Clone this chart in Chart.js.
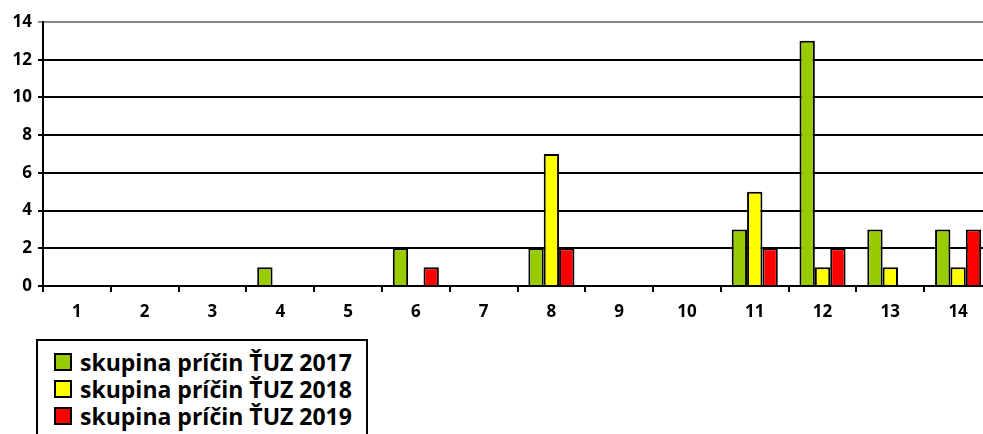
<!DOCTYPE html>
<html>
<head>
<meta charset="utf-8">
<script src="https://cdn.jsdelivr.net/npm/chart.js@4/dist/chart.umd.min.js"></script>
<style>
  html, body { margin: 0; padding: 0; background: #fff; overflow: hidden; }
  #wrap { position: relative; width: 983px; height: 434px; overflow: hidden; }
  #chart { position: absolute; left: 0; top: 0; }
  #legend {
    position: absolute; left: 36px; top: 339px; width: 332px; height: 110px;
    border: 2px solid #000; box-sizing: border-box; padding-top: 8px;
    font-family: 'Open Sans', sans-serif; font-weight: bold; font-size: 23px; color: #000;
  }
  #legend div { height: 27px; line-height: 27px; white-space: nowrap; }
  #legend span.sw {
    display: inline-block; width: 14px; height: 14px; border: 2px solid #000;
    margin-left: 16px; margin-right: 8px; vertical-align: 0px;
  }
</style>
</head>
<body>
<div id="wrap">
  <canvas id="chart" width="992" height="330"></canvas>
  <div id="legend"></div>
</div>
<script>
const categories = ['1', '2', '3', '4', '5', '6', '7', '8', '9', '10', '11', '12', '13', '14'];
const values2017 = [0, 0, 0, 1, 0, 2, 0, 2, 0, 0, 3, 13, 3, 3];
const values2018 = [0, 0, 0, 0, 0, 0, 0, 7, 0, 0, 5, 1, 1, 1];
const values2019 = [0, 0, 0, 0, 0, 1, 0, 2, 0, 0, 2, 2, 0, 3];
const seriesLabels = ['skupina príčin ŤUZ 2017', 'skupina príčin ŤUZ 2018', 'skupina príčin ŤUZ 2019'];
const yTicks = [0, 2, 4, 6, 8, 10, 12, 14];

const tickFont = { family: "'Open Sans', sans-serif", weight: 'bold', size: 17 };

const chart = new Chart(document.getElementById('chart'), {
  type: 'bar',
  data: {
    labels: categories,
    datasets: [
      { label: seriesLabels[0], data: values2017, backgroundColor: '#99cc00' },
      { label: seriesLabels[1], data: values2018, backgroundColor: '#ffff00' },
      { label: seriesLabels[2], data: values2019, backgroundColor: '#ff0000' }
    ].map(d => ({ ...d, borderColor: '#000', borderWidth: 2, borderSkipped: 'bottom' }))
  },
  options: {
    responsive: false,
    animation: false,
    layout: { padding: { top: 22, right: 0, left: 0, bottom: 0 } },
    datasets: { bar: { categoryPercentage: 0.68, barPercentage: 1 } },
    plugins: {
      legend: { display: false },
      tooltip: { enabled: false }
    },
    scales: {
      x: {
        afterFit: s => { s.height = 44; },
        border: { color: '#000', width: 2 },
        grid: { display: true, drawOnChartArea: false, drawTicks: true, tickLength: 6, color: '#000', lineWidth: 2 },
        ticks: { color: '#000', font: tickFont, padding: 10, maxRotation: 0 }
      },
      y: {
        min: 0,
        max: 14,
        afterFit: s => { s.width = 43; },
        afterBuildTicks: s => { s.ticks = yTicks.map(v => ({ value: v })); },
        border: { color: '#000', width: 2 },
        grid: {
          color: c => (c.tick && c.tick.value === 14 ? '#888' : '#000'),
          lineWidth: 2,
          tickLength: 5
        },
        ticks: { color: '#000', font: tickFont, padding: 6 }
      }
    }
  }
});

// HTML legend built from the chart's datasets
const legend = document.getElementById('legend');
chart.data.datasets.forEach(ds => {
  const row = document.createElement('div');
  const sw = document.createElement('span');
  sw.className = 'sw';
  sw.style.background = ds.backgroundColor;
  row.appendChild(sw);
  row.appendChild(document.createTextNode(ds.label));
  legend.appendChild(row);
});
</script>
</body>
</html>
